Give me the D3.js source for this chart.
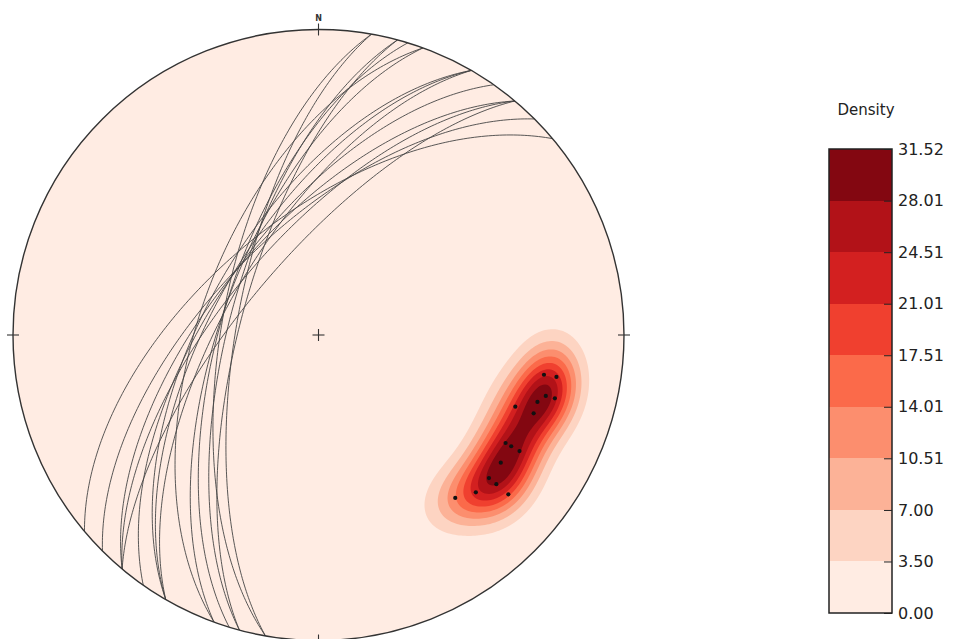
<!DOCTYPE html>
<html>
<head>
<meta charset="utf-8">
<script src="https://cdn.jsdelivr.net/npm/d3@7"></script>
<style>
  html, body { margin: 0; padding: 0; background: #ffffff; }
  svg { display: block; font-family: "DejaVu Sans", sans-serif; }
</style>
</head>
<body>
<svg id="chart" width="954" height="639"></svg>
<script>
// ---- data ----
// planes: strike (right-hand rule, degrees) and dip (degrees)
const strikes = [190, 190, 195, 195, 200, 200, 197, 210, 210, 210, 215, 220, 220, 225, 220, 230];
const dips    = [ 64,  68,  66,  69,  58,  64,  64,  60,  62,  65,  62,  62,  65,  62,  70,  59];
// contour levels shown on the colour bar
const levels = [0.00, 3.50, 7.00, 10.51, 14.01, 17.51, 21.01, 24.51, 28.01, 31.52];
const levelLabels = ["0.00", "3.50", "7.00", "10.51", "14.01", "17.51", "21.01", "24.51", "28.01", "31.52"];
// matplotlib "Reds" colour map stops
const redsStops = ["#fff5f0", "#fee0d2", "#fcbba1", "#fc9272", "#fb6a4a", "#ef3b2c", "#cb181d", "#a50f15", "#67000d"];
const compassLabels = ["N"];

// ---- layout ----
const cx = 318.5, cy = 335, R = 305.5;
const svg = d3.select("#chart");

const xs = d3.scaleLinear().domain([-1, 1]).range([cx - R, cx + R]);
const ys = d3.scaleLinear().domain([-1, 1]).range([cy + R, cy - R]);

const reds = d3.scaleLinear()
  .domain(redsStops.map((_, i) => i / (redsStops.length - 1)))
  .range(redsStops)
  .interpolate(d3.interpolateRgb);
const nBands = levels.length - 1;
const bandColor = i => reds((i + 0.5) / nBands);

const rad = Math.PI / 180;
function lineVec(trend, plunge) {
  return [Math.cos(plunge * rad) * Math.sin(trend * rad),
          Math.cos(plunge * rad) * Math.cos(trend * rad),
          -Math.sin(plunge * rad)];
}
// equal-area (Schmidt) lower-hemisphere projection to unit disc
function project(v) {
  let [x, y, z] = v;
  if (z > 0) { x = -x; y = -y; z = -z; }
  const f = 1 / Math.sqrt(1 - z);
  return [x * f, y * f];
}

// ---- poles & great circles from the planes ----
const planes = strikes.map((s, i) => ({ strike: s, dip: dips[i] }));
const poles = planes.map(p => lineVec(p.strike - 90, 90 - p.dip));

function greatCircle(p) {
  const sv = [Math.sin(p.strike * rad), Math.cos(p.strike * rad), 0];
  const dv = lineVec(p.strike + 90, p.dip);
  const pts = [];
  for (let t = 0; t <= 180; t += 1) {
    const c = Math.cos(t * rad), s = Math.sin(t * rad);
    pts.push(project([c * sv[0] + s * dv[0], c * sv[1] + s * dv[1], c * sv[2] + s * dv[2]]));
  }
  return pts;
}

// ---- density grid (exponential kernel on the sphere) ----
const step = 2;
const x0 = cx - R - 4, y0 = cy - R - 4;
const nx = Math.ceil((2 * R + 8) / step) + 1, ny = nx;
const kappa = 82;
const raw = new Float64Array(nx * ny);
for (let j = 0; j < ny; j++) {
  for (let i = 0; i < nx; i++) {
    const X = xs.invert(x0 + i * step), Y = ys.invert(y0 + j * step);
    let r2 = X * X + Y * Y;
    if (r2 > 2) r2 = 2;
    const q = Math.sqrt(2 - r2);
    const v = [X * q, Y * q, r2 - 1];
    let sum = 0;
    for (const p of poles) {
      const cd = Math.abs(v[0] * p[0] + v[1] * p[1] + v[2] * p[2]);
      sum += Math.exp(kappa * (cd - 1));
    }
    raw[j * nx + i] = sum;
  }
}
const rawMax = d3.max(raw);
const dens = Array.from(raw, d => d / rawMax * levels[levels.length - 1]);

// ---- draw stereonet ----
const defs = svg.append("defs");
defs.append("clipPath").attr("id", "net")
  .append("circle").attr("cx", xs(0)).attr("cy", ys(0)).attr("r", xs(1) - xs(0));

svg.append("circle")
  .attr("cx", xs(0)).attr("cy", ys(0)).attr("r", xs(1) - xs(0))
  .attr("fill", bandColor(0));

const contours = d3.contours().size([nx, ny]).thresholds(levels.slice(1, -1))(dens);
const cpath = d3.geoPath(d3.geoIdentity().scale(step).translate([x0 - step / 2, y0 - step / 2]));
svg.append("g").attr("clip-path", "url(#net)")
  .selectAll("path").data(contours).join("path")
  .attr("d", cpath)
  .attr("fill", (d, i) => bandColor(i + 1))
  .attr("stroke", "none");

const line = d3.line().x(d => xs(d[0])).y(d => ys(d[1])).curve(d3.curveLinear);
svg.append("g").attr("clip-path", "url(#net)")
  .selectAll("path").data(planes).join("path")
  .attr("d", p => line(greatCircle(p)))
  .attr("fill", "none")
  .attr("stroke", "#454545")
  .attr("stroke-width", 0.9);

svg.append("g").selectAll("circle").data(poles).join("circle")
  .attr("cx", p => xs(project(p)[0]))
  .attr("cy", p => ys(project(p)[1]))
  .attr("r", 2.1)
  .attr("fill", "#111");

svg.append("circle")
  .attr("cx", xs(0)).attr("cy", ys(0)).attr("r", xs(1) - xs(0))
  .attr("fill", "none").attr("stroke", "#333").attr("stroke-width", 1.4);

// compass ticks and centre cross
const tk = 6;
const ticks = svg.append("g").attr("stroke", "#333").attr("stroke-width", 1.1);
[[0, 1], [1, 0], [0, -1], [-1, 0]].forEach(([a, b]) => {
  if (a === 0) ticks.append("line").attr("x1", xs(0)).attr("x2", xs(0)).attr("y1", ys(b) - tk).attr("y2", ys(b) + tk);
  else ticks.append("line").attr("y1", ys(0)).attr("y2", ys(0)).attr("x1", xs(a) - tk).attr("x2", xs(a) + tk);
});
ticks.append("line").attr("x1", xs(0) - tk).attr("x2", xs(0) + tk).attr("y1", ys(0)).attr("y2", ys(0));
ticks.append("line").attr("x1", xs(0)).attr("x2", xs(0)).attr("y1", ys(0) - tk).attr("y2", ys(0) + tk);

svg.append("text").text(compassLabels[0])
  .attr("x", xs(0)).attr("y", ys(1) - 9)
  .attr("text-anchor", "middle").attr("font-size", 8).attr("font-weight", "bold").attr("fill", "#333");

// ---- colour bar ----
const cbX = 829, cbW = 63, cbTop = 149, cbBot = 613;
const cy2 = d3.scaleLinear().domain([levels[0], levels[levels.length - 1]]).range([cbBot, cbTop]);
const cb = svg.append("g");
cb.selectAll("rect").data(d3.range(nBands)).join("rect")
  .attr("x", cbX).attr("width", cbW)
  .attr("y", i => cy2(levels[i + 1]))
  .attr("height", i => cy2(levels[i]) - cy2(levels[i + 1]))
  .attr("fill", i => bandColor(i))
  .attr("shape-rendering", "crispEdges");
cb.append("rect").attr("x", cbX).attr("y", cbTop).attr("width", cbW).attr("height", cbBot - cbTop)
  .attr("fill", "none").attr("stroke", "#222").attr("stroke-width", 1.5);

const axis = d3.axisRight(cy2).tickValues(levels)
  .tickFormat((d, i) => levelLabels[i]).tickSizeInner(-8).tickSizeOuter(0).tickPadding(6);
const ag = cb.append("g").attr("transform", `translate(${cbX + cbW},0)`).call(axis);
ag.select(".domain").remove();
ag.selectAll(".tick line").attr("stroke", "#222").attr("stroke-width", 1);
ag.selectAll(".tick text").attr("font-size", 16).attr("fill", "#222")
  .attr("font-family", "DejaVu Sans, sans-serif");

svg.append("text").text("Density")
  .attr("x", 866).attr("y", 115)
  .attr("text-anchor", "middle").attr("font-size", 15).attr("fill", "#222");
</script>
</body>
</html>
